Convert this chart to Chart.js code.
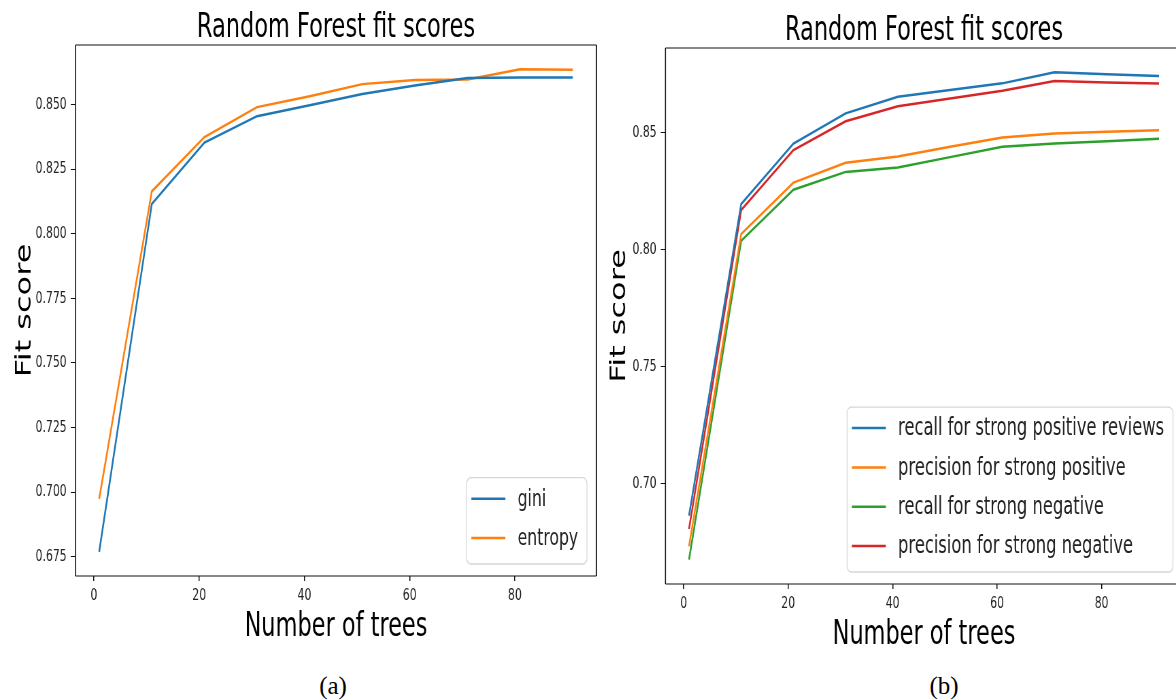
<!DOCTYPE html>
<html>
<head>
<meta charset="utf-8">
<script src="https://cdn.jsdelivr.net/npm/chart.js@4.4.1/dist/chart.umd.min.js"></script>
<style>
html, body { margin: 0; padding: 0; background: #fff; }
body { width: 1176px; height: 700px; overflow: hidden; position: relative; }
/* the source figure is squeezed horizontally, so each canvas is scaled on x */
.fig { position: absolute; top: 0; transform-origin: 0 0; transform: scaleX(0.68); }
#figA { left: 0; }
#figB { left: 600px; }
.cap { position: absolute; top: 671px; width: 100px; text-align: center; line-height: 30px;
       font-family: "Liberation Serif", serif; font-size: 25px; color: #000; }
#capA { left: 283px; }
#capB { left: 894px; }
</style>
</head>
<body>
<canvas id="figA" class="fig" width="882" height="660"></canvas>
<canvas id="figB" class="fig" width="868" height="660"></canvas>
<div class="cap" id="capA">(a)</div>
<div class="cap" id="capB">(b)</div>

<script>
// number of trees (x values, same for every series)
const trees = [1, 11, 21, 31, 41, 51, 61, 71, 81, 91];

// (a) criterion comparison
const gini    = [0.6769, 0.8115, 0.8353, 0.8455, 0.8497, 0.8541, 0.8574, 0.8603, 0.8605, 0.8605];
const entropy = [0.6974, 0.8164, 0.8374, 0.8490, 0.8532, 0.8579, 0.8595, 0.8597, 0.8637, 0.8635];

// (b) per class recall / precision
const recallPos    = [0.6864, 0.8195, 0.8453, 0.8582, 0.8653, 0.8682, 0.8710, 0.8757, 0.8749, 0.8741];
const precisionPos = [0.6733, 0.8067, 0.8286, 0.8371, 0.8398, 0.8439, 0.8479, 0.8496, 0.8503, 0.8510];
const recallNeg    = [0.6676, 0.8038, 0.8256, 0.8332, 0.8351, 0.8395, 0.8439, 0.8453, 0.8463, 0.8473];
const precisionNeg = [0.6807, 0.8169, 0.8425, 0.8548, 0.8612, 0.8645, 0.8678, 0.8720, 0.8714, 0.8709];

const xTicks  = [0, 20, 40, 60, 80];
const yTicksA = [0.675, 0.700, 0.725, 0.750, 0.775, 0.800, 0.825, 0.850];
const yTicksB = [0.70, 0.75, 0.80, 0.85];

const BLUE = '#1f77b4', ORANGE = '#ff7f0e', GREEN = '#2ca02c', RED = '#d62728';
const FONT = 'DejaVu Sans';

// matplotlib style autoscale: data range plus 5% each side
function paddedRange(list) {
    let all = [];
    for (let i = 0; i < list.length; i++) all = all.concat(list[i]);
    let lo = Math.min(...all), hi = Math.max(...all);
    let m = (hi - lo) * 0.05;
    return [lo - m, hi + m];
}

function points(values) {
    return values.map((v, i) => ({ x: trees[i], y: v }));
}

// box round the plot area
const frame = {
    id: 'frame',
    afterDatasetsDraw(chart) {
        const { ctx, chartArea: a } = chart;
        ctx.save();
        ctx.strokeStyle = '#111';
        ctx.lineWidth = 1.1;
        ctx.beginPath();
        ctx.moveTo(a.left, a.top); ctx.lineTo(a.right, a.top);
        ctx.moveTo(a.left, a.bottom); ctx.lineTo(a.right, a.bottom);
        ctx.stroke();
        ctx.lineWidth = 1.6;
        ctx.beginPath();
        ctx.moveTo(a.left, a.top); ctx.lineTo(a.left, a.bottom);
        ctx.moveTo(a.right, a.top); ctx.lineTo(a.right, a.bottom);
        ctx.stroke();
        ctx.restore();
    }
};

// legend in the lower right corner, inside the axes
const boxLegend = {
    id: 'boxLegend',
    afterDatasetsDraw(chart, args, opts) {
        const { ctx, chartArea: a } = chart;
        const sets = chart.data.datasets;
        ctx.save();
        ctx.font = opts.size + 'px "' + FONT + '"';
        let tw = 0;
        sets.forEach(d => { tw = Math.max(tw, ctx.measureText(d.label).width); });
        const w = 77 + tw + 11;
        const h = 21 + (sets.length - 1) * opts.row + 26;
        const x = a.right - 14 - w;
        const y = a.bottom - 12 - h;
        ctx.beginPath();
        if (ctx.roundRect) ctx.roundRect(x, y, w, h, 6); else ctx.rect(x, y, w, h);
        ctx.fillStyle = 'rgba(255,255,255,0.8)';
        ctx.fill();
        ctx.strokeStyle = '#d6d6d6';
        ctx.lineWidth = 1.3;
        ctx.stroke();
        sets.forEach((d, i) => {
            const ry = y + 21 + i * opts.row;
            ctx.strokeStyle = d.borderColor;
            ctx.lineWidth = 2.5;
            ctx.beginPath();
            ctx.moveTo(x + 7, ry); ctx.lineTo(x + 57, ry);
            ctx.stroke();
            ctx.fillStyle = '#222';
            ctx.textBaseline = 'middle';
            ctx.textAlign = 'left';
            ctx.fillText(d.label, x + 75, ry + 1);
        });
        ctx.restore();
    }
};

function MontarGrafico(id, series, yTicks, decimals, geo) {
    let range = paddedRange(series.map(s => s.data));
    let datasets = series.map(s => ({
        label: s.label,
        data: points(s.data),
        borderColor: s.color,
        backgroundColor: s.color,
        borderWidth: 2.5,
        pointRadius: 0,
        tension: 0,
        fill: false
    }));

    let options = {
        responsive: false,
        animation: false,
        events: [],
        layout: { padding: { left: 0, right: geo.right, top: 0, bottom: 0 } },
        plugins: {
            legend: { display: false },
            tooltip: { enabled: false },
            title: {
                display: true,
                fullSize: false,
                text: 'Random Forest fit scores',
                color: '#000',
                font: { family: FONT, size: 33, weight: 'normal', lineHeight: 1 },
                padding: { top: geo.titleTop, bottom: 0 }
            },
            boxLegend: { size: geo.legendSize, row: 39.3 }
        },
        scales: {
            x: {
                type: 'linear',
                min: trees[0] - (trees[trees.length - 1] - trees[0]) * 0.05,
                max: trees[trees.length - 1] + (trees[trees.length - 1] - trees[0]) * 0.05,
                afterBuildTicks: s => { s.ticks = xTicks.map(v => ({ value: v })); },
                afterFit: s => { s.height = geo.xHeight; },
                border: { display: false },
                grid: { drawOnChartArea: false, drawTicks: true, tickLength: 5, tickColor: '#111', lineWidth: 1.5 },
                ticks: {
                    autoSkip: false, maxRotation: 0, padding: 5, color: '#222',
                    font: { family: FONT, size: 16 },
                    callback: v => String(v)
                },
                title: {
                    display: true,
                    text: 'Number of trees',
                    color: '#000',
                    font: { family: FONT, size: 33, lineHeight: 1 },
                    padding: { top: 0, bottom: geo.xTitlePad }
                }
            },
            y: {
                type: 'linear',
                min: range[0],
                max: range[1],
                afterBuildTicks: s => { s.ticks = yTicks.map(v => ({ value: v })); },
                afterFit: s => { s.width = geo.yWidth; },
                border: { display: false },
                grid: { drawOnChartArea: false, drawTicks: true, tickLength: 7, tickColor: '#111', lineWidth: 1 },
                ticks: {
                    padding: 6, color: '#222',
                    font: { family: FONT, size: 16 },
                    callback: v => Number(v).toFixed(decimals)
                },
                title: {
                    display: true,
                    text: 'Fit score',
                    color: '#000',
                    font: { family: FONT, size: 32, lineHeight: 1 },
                    padding: { top: geo.yTitlePad, bottom: 0 }
                }
            }
        }
    };

    let config = {
        type: 'line',
        data: { datasets: datasets },
        options: options,
        plugins: [frame, boxLegend]
    };
    return new Chart(document.getElementById(id), config);
}

MontarGrafico('figA', [
    { label: 'gini', data: gini, color: BLUE },
    { label: 'entropy', data: entropy, color: ORANGE }
], yTicksA, 3, { right: 4.8, yWidth: 111, titleTop: 12, xHeight: 84, xTitlePad: 16, yTitlePad: 21, legendSize: 23 });

MontarGrafico('figB', [
    { label: 'recall for strong positive reviews', data: recallPos, color: BLUE },
    { label: 'precision for strong positive', data: precisionPos, color: ORANGE },
    { label: 'recall for strong negative', data: recallNeg, color: GREEN },
    { label: 'precision for strong negative', data: precisionNeg, color: RED }
], yTicksB, 2, { right: 11.4, yWidth: 96.3, titleTop: 15, xHeight: 76, xTitlePad: 8, yTitlePad: 13, legendSize: 24 });
</script>
</body>
</html>
